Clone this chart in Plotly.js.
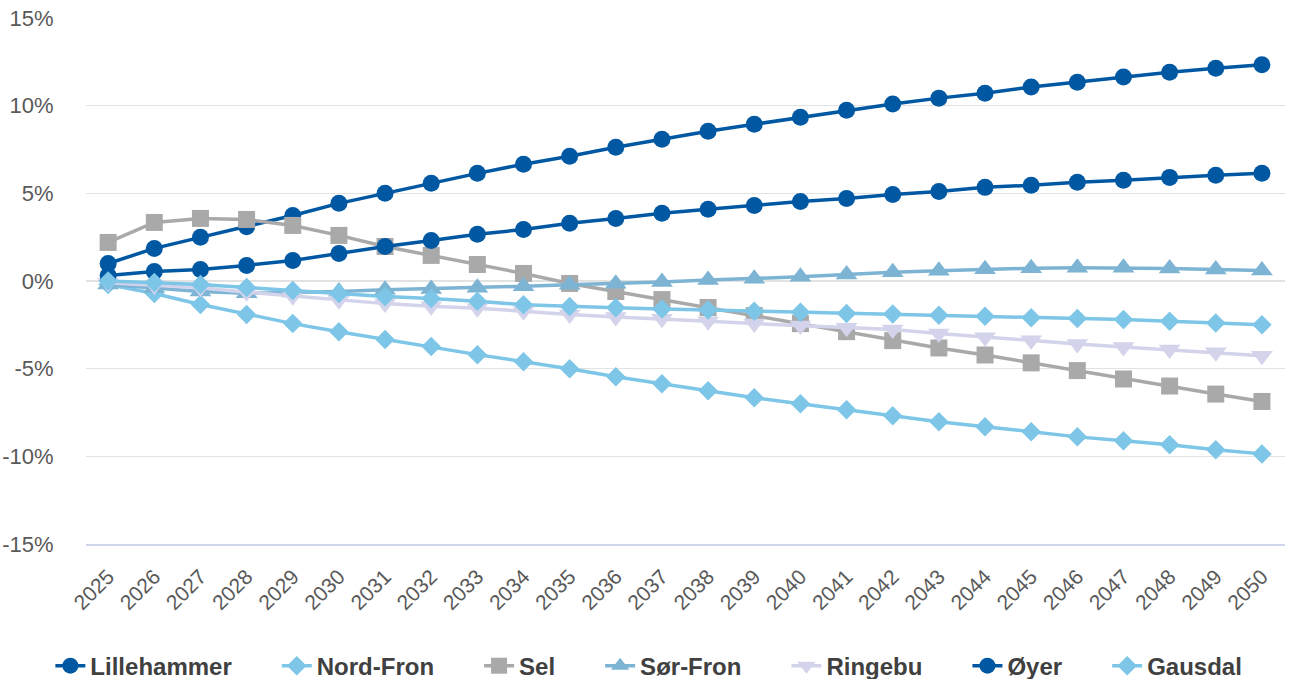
<!DOCTYPE html>
<html>
<head>
<meta charset="utf-8">
<script src="https://cdn.plot.ly/plotly-3.0.1.min.js"></script>
<style>html,body{margin:0;padding:0;background:#fff;}#chart{width:1290px;height:679px;}</style>
</head>
<body>
<div id="chart"></div>
<script>
const years = ['2025','2026','2027','2028','2029','2030','2031','2032','2033','2034','2035','2036','2037','2038','2039','2040','2041','2042','2043','2044','2045','2046','2047','2048','2049','2050'];

const seriesNames = ['Lillehammer','Nord-Fron','Sel','Sør-Fron','Ringebu','Øyer','Gausdal'];

const lillehammer = [1.0,1.86,2.49,3.1,3.74,4.43,5.0,5.57,6.14,6.66,7.11,7.63,8.09,8.54,8.94,9.34,9.74,10.09,10.43,10.71,11.06,11.34,11.63,11.91,12.14,12.33];
const nordFron = [-0.2,-0.71,-1.34,-1.91,-2.43,-2.89,-3.34,-3.74,-4.2,-4.6,-5.0,-5.46,-5.86,-6.26,-6.66,-7.0,-7.34,-7.69,-8.03,-8.31,-8.6,-8.89,-9.11,-9.34,-9.63,-9.86];
const sel = [2.2,3.34,3.57,3.51,3.17,2.6,1.97,1.46,0.94,0.43,-0.14,-0.6,-1.06,-1.51,-1.97,-2.43,-2.89,-3.4,-3.82,-4.22,-4.67,-5.11,-5.59,-5.99,-6.45,-6.87];
const sorFron = [-0.2,-0.4,-0.6,-0.7,-0.65,-0.6,-0.5,-0.45,-0.38,-0.3,-0.22,-0.15,-0.05,0.05,0.13,0.24,0.37,0.5,0.58,0.67,0.73,0.76,0.76,0.72,0.66,0.6];
const ringebu = [-0.1,-0.26,-0.39,-0.64,-0.87,-1.1,-1.29,-1.44,-1.55,-1.72,-1.91,-2.05,-2.16,-2.3,-2.43,-2.54,-2.67,-2.77,-3.0,-3.21,-3.38,-3.59,-3.76,-3.91,-4.07,-4.26];
const oyer = [0.31,0.54,0.66,0.89,1.17,1.57,1.97,2.31,2.66,2.94,3.29,3.57,3.86,4.09,4.31,4.54,4.71,4.94,5.11,5.34,5.46,5.63,5.74,5.91,6.03,6.14];
const gausdal = [0.0,-0.08,-0.2,-0.37,-0.54,-0.71,-0.89,-1.0,-1.15,-1.36,-1.46,-1.53,-1.59,-1.65,-1.72,-1.78,-1.86,-1.88,-1.95,-2.01,-2.09,-2.14,-2.2,-2.3,-2.39,-2.49];

const yTickVals = [-15,-10,-5,0,5,10,15];
const yTickText = ['-15%','-10%','-5%','0%','5%','10%','15%'];

const seriesValues = [lillehammer, nordFron, sel, sorFron, ringebu, oyer, gausdal];
const colors = ['#0058A3','#7DC6E7','#A9A9A9','#7DB4D4','#D3D3EB','#0058A3','#7DC6E7'];
const symbols = ['circle','diamond','square','triangle-up','triangle-down','circle','diamond'];
const sizes = [17,15,17,19,19,17,15];

const pad = '\u00a0\u00a0\u00a0\u00a0\u00a0\u00a0';
const traces = seriesNames.map((n, i) => ({
  type: 'scatter',
  mode: 'lines+markers',
  name: i < seriesNames.length - 1 ? n + pad : n,
  x: years,
  y: seriesValues[i],
  line: {color: colors[i], width: 3.5},
  marker: {color: colors[i], symbol: symbols[i], size: sizes[i]},
  cliponaxis: false
}));

const layout = {
  width: 1290,
  height: 679,
  paper_bgcolor: '#ffffff',
  plot_bgcolor: '#ffffff',
  margin: {l: 86, r: 5, t: 18, b: 135},
  font: {family: 'Liberation Sans, Arial, sans-serif', color: '#595959'},
  showlegend: true,
  legend: {
    orientation: 'h',
    xref: 'container', yref: 'container',
    x: 0.503, xanchor: 'center',
    y: 0.019, yanchor: 'middle',
    font: {size: 24, color: '#404040', weight: 'bold', family: 'Liberation Sans, Arial, sans-serif'},
    itemwidth: 30,
    traceorder: 'normal'
  },
  xaxis: {
    type: 'category',
    range: [-0.48, 25.5],
    tickangle: -45,
    tickfont: {size: 21, color: '#595959'},
    showgrid: false,
    showline: true,
    linecolor: '#CCD5EA',
    linewidth: 2,
    ticks: 'outside',
    ticklen: 10,
    tickcolor: 'rgba(0,0,0,0)',
    zeroline: false
  },
  yaxis: {
    range: [-15, 15],
    tickvals: yTickVals,
    ticktext: yTickText,
    tickfont: {size: 22, color: '#595959'},
    showgrid: true,
    gridcolor: '#E2E2E2',
    gridwidth: 1.5,
    zeroline: false,
    showline: false,
    ticks: 'outside',
    ticklen: 27,
    tickcolor: 'rgba(0,0,0,0)'
  }
};

Plotly.newPlot('chart', traces, layout, {displayModeBar: false, staticPlot: true});
</script>
</body>
</html>
